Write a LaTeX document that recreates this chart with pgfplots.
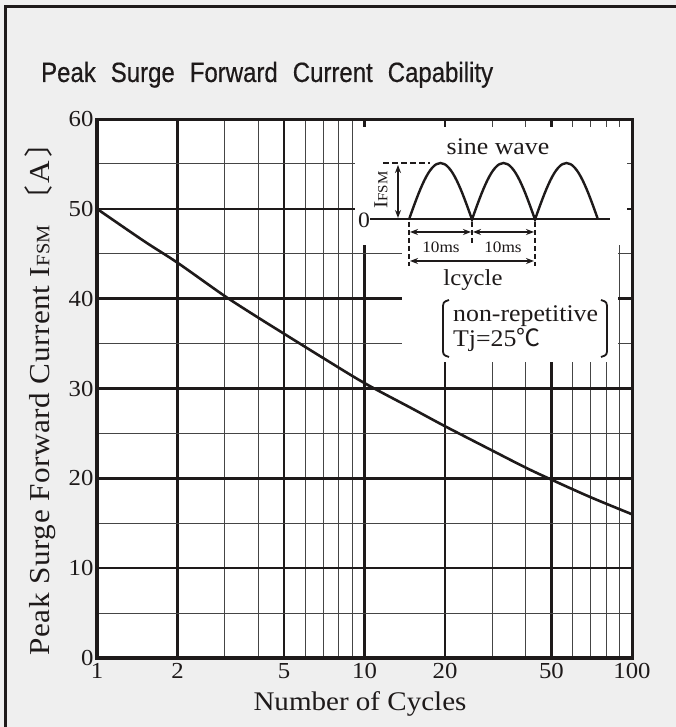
\documentclass[border=0pt]{standalone}
\usepackage{fontspec}
\usepackage{pgfplots}
\pgfplotsset{compat=1.18}
\usetikzlibrary{arrows.meta}
\setmainfont{Liberation Serif}[FakeStretch=1.08]
\newfontfamily\ylabfont{Liberation Serif}[FakeStretch=1.08, LetterSpace=2]
\newfontfamily\titlefont{Liberation Sans}[FakeStretch=0.86, FakeBold=0.4]
\newfontfamily\cjk{Noto Sans CJK JP}
\definecolor{bg}{HTML}{EFEFEF}
\definecolor{minorgrid}{HTML}{454545}
\definecolor{ink}{HTML}{1E1A1A}
\begin{document}
\begin{tikzpicture}
\useasboundingbox (0,0) rectangle (676bp,727bp);
\begin{scope}
\clip (0,0) rectangle (676bp,727bp);
\fill[bg] (0,0) rectangle (676bp,727bp);
\draw[line width=3bp, ink] (5bp,-50bp) rectangle (900bp,720bp);
\end{scope}
\begin{axis}[
  at={(97bp,69bp)}, anchor=south west,
  scale only axis, width=535bp, height=539bp,
  xmode=log, xmin=1, xmax=100, ymin=0, ymax=60,
  xtick={1,2,5,10,20,50,100}, xticklabels={1,2,5,10,20,50,100},
  minor xtick={3,4,6,7,8,9,30,40,60,70,80,90},
  ytick={0,10,20,30,40,50,60}, yticklabels={0,10,20,30,40,50,60},
  minor ytick={5,15,25,35,45,55},
  grid=both,
  major grid style={line width=2.5bp, ink},
  minor grid style={line width=1.1bp, minorgrid},
  major tick length=0pt, minor tick length=0pt,
  axis line style={line width=3bp, ink},
  axis background/.style={fill=white},
  /pgf/number format/assume math mode=true,
  tick label style={font=\fontsize{23}{23}\selectfont, text=ink},
  xticklabel style={yshift=-2bp},
  xlabel={Number of Cycles},
  xlabel style={at={(axis description cs:0.4916,-0.0850)}, anchor=center, font=\fontsize{27}{27}\selectfont, text=ink},
  ylabel={Peak Surge Forward Current I{\fontsize{19}{19}\selectfont FSM}\hspace{10bp}{\cjk 〔}\hspace{3bp}A\hspace{3bp}{\cjk 〕}},
  ylabel style={at={(axis description cs:-0.1065,0.4935)}, anchor=center, font=\ylabfont\fontsize{29}{29}\selectfont, text=ink},
  title={Peak\hspace{15bp}Surge\hspace{15bp}Forward\hspace{15bp}Current\hspace{15bp}Capability},
  title style={at={(axis description cs:-0.111,1.0576)}, anchor=base west, font=\titlefont\fontsize{28}{28}\selectfont, text=ink},
]
\addplot[line width=2.6bp, ink, smooth, no marks] coordinates {
 (1,50.0) (1.5,46.4) (2,44.0) (3,40.3) (4,37.9) (5,36.1) (7,33.4)
 (10,30.6) (15,27.8) (20,25.8) (30,23.1) (40,21.2) (50,19.85)
 (70,17.9) (100,16.0)};
\end{axis}
\begin{scope}[x=1bp,y=-1bp,yshift=727bp]
\fill[white] (355,127) rectangle (627,245);
\fill[white] (402,244) rectangle (618,362);
% zero line
\draw[line width=2bp, ink] (370,219.5) -- (610,219.5);
% humps
\draw[line width=2.4bp, ink] (409,219.5) sin (440.5,163) cos (472,219.5) sin (503.5,163) cos (535,219.5) sin (566.5,163) cos (598,219.5);
\draw[line width=2bp, ink, dash pattern=on 6bp off 3bp] (383,163) -- (430,163);
\draw[line width=2bp, ink, {Stealth[length=8bp,width=6bp]}-{Stealth[length=8bp,width=6bp]}] (398,165) -- (398,218);
\node[font=\fontsize{20}{20}\selectfont, rotate=90, text=ink] at (381,190) {I{\fontsize{14}{14}\selectfont FSM}};
\node[font=\fontsize{22}{22}\selectfont, text=ink] at (364,220) {0};
% dashed verticals
\draw[line width=2.6bp, ink, dash pattern=on 5bp off 3bp] (409,222) -- (409,266);
\draw[line width=2.6bp, ink, dash pattern=on 5bp off 3bp] (535,222) -- (535,266);
\draw[line width=2.6bp, ink, dash pattern=on 5bp off 3bp] (472,222) -- (472,245);
\draw[line width=2bp, ink, {Stealth[length=8bp,width=6bp]}-{Stealth[length=8bp,width=6bp]}] (410,232) -- (471,232);
\draw[line width=2bp, ink, {Stealth[length=8bp,width=6bp]}-{Stealth[length=8bp,width=6bp]}] (473,232) -- (534,232);
\draw[line width=2bp, ink, {Stealth[length=8bp,width=6bp]}-{Stealth[length=8bp,width=6bp]}] (410,261) -- (534,261);
\node[font=\fontsize{16}{16}\selectfont, text=ink] at (441,247) {10ms};
\node[font=\fontsize{16}{16}\selectfont, text=ink] at (503,247) {10ms};
\node[font=\fontsize{23}{23}\selectfont, text=ink, anchor=base] at (473,286) {lcycle};
\node[font=\fontsize{24}{24}\selectfont, text=ink, anchor=base] at (498,155) {sine wave};
\node[font=\fontsize{24}{24}\selectfont, text=ink, anchor=base west, inner sep=0pt] at (453,322) {non-repetitive};
\node[font=\fontsize{24}{24}\selectfont, text=ink, anchor=base west, inner sep=0pt] at (453,347) {Tj=25{\cjk ℃}};
\draw[line width=1.8bp, ink] (449,300) .. controls (443,302) .. (443,310) -- (443,348) .. controls (443,355) .. (449,357);
\draw[line width=1.8bp, ink] (601,300) .. controls (607,302) .. (607,310) -- (607,348) .. controls (607,355) .. (601,357);
\end{scope}
\end{tikzpicture}
\end{document}
